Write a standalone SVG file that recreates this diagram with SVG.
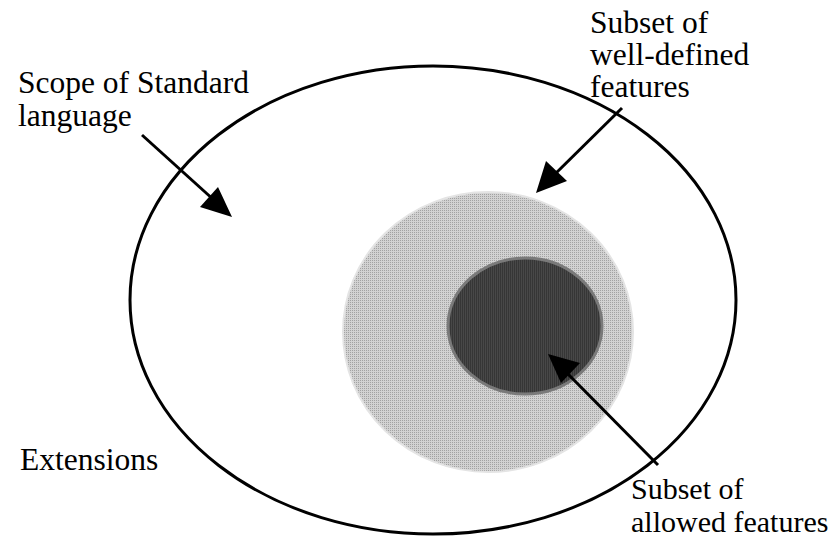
<svg xmlns="http://www.w3.org/2000/svg" width="839" height="539" viewBox="0 0 839 539">
<style>
.lbl{font-family:"Liberation Serif","Times New Roman",serif;font-size:31.5px;fill:#000}
.sm{font-size:30px}
.arrow{stroke:#000;stroke-width:3;fill:none}
</style>
<defs>
<pattern id="lightpat" width="2" height="2" patternUnits="userSpaceOnUse">
<rect width="2" height="2" fill="#d2d2d2"/>
<rect width="1" height="1" fill="#a2a2a2"/>
</pattern>
<pattern id="darkpat" width="2" height="2" patternUnits="userSpaceOnUse">
<rect width="2" height="2" fill="#484848"/>
<rect width="1" height="2" fill="#363636"/>
</pattern>
</defs>
<rect width="839" height="539" fill="#fff"/>
<g id="scope">
<ellipse cx="433" cy="300" rx="303" ry="234" fill="none" stroke="#000" stroke-width="3"/>
</g>
<g id="welldefined">
<ellipse cx="488" cy="332" rx="145" ry="140" fill="url(#lightpat)" stroke="#e4e4e4" stroke-width="2"/>
</g>
<g id="allowed">
<ellipse cx="525" cy="326" rx="77" ry="68" fill="url(#darkpat)" stroke="#7a7a7a" stroke-width="3"/>
</g>
<g id="connectors">
<line class="arrow" x1="142" y1="135" x2="215" y2="201"/>
<polygon points="232,217 200,207 218,187" fill="#000"/>
<line class="arrow" x1="622" y1="108" x2="552" y2="177"/>
<polygon points="536,193 546,161 567,181" fill="#000"/>
<line class="arrow" x1="658" y1="465" x2="565" y2="371"/>
<polygon points="548,354 580,363 561,383" fill="#000"/>
</g>
<g id="label-scope">
<text class="lbl" x="18" y="93">Scope of Standard<tspan x="18" y="126">language</tspan></text>
</g>
<g id="label-welldefined">
<text class="lbl" x="590" y="33">Subset of<tspan x="590" y="65">well-defined</tspan><tspan x="590" y="97">features</tspan></text>
</g>
<g id="label-extensions">
<text class="lbl" x="20" y="470">Extensions</text>
</g>
<g id="label-allowed">
<text class="lbl sm" x="631" y="498.5">Subset of<tspan x="631" y="532">allowed features</tspan></text>
</g>
</svg>
